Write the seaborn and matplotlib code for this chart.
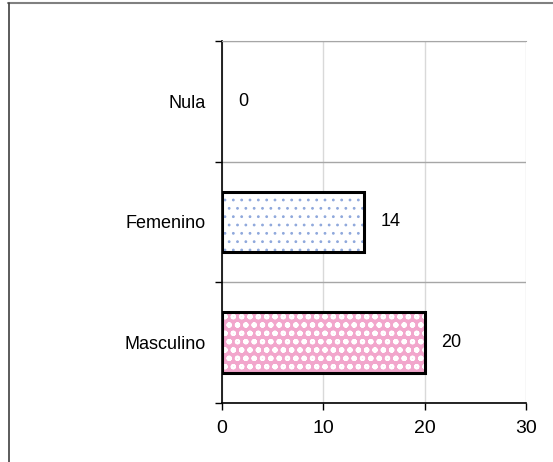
import matplotlib
matplotlib.use("Agg")
import matplotlib.pyplot as plt
import seaborn as sns
import pandas as pd
from matplotlib.lines import Line2D

# Data
categorias = ["Nula", "Femenino", "Masculino"]
valores = [0, 14, 20]
colores = ["#ffffff", "#ffffff", "#ff99cc"]
tramas = ["", "..", "oo"]
color_trama = ["#ffffff", "#8fa8dc", "#ffffff"]
grosor_trama = [1.0, 0.8, 1.5]

df = pd.DataFrame({"sexo": categorias, "n": valores})

sns.set_style("white")
plt.rcParams["font.family"] = ["Liberation Sans", "DejaVu Sans"]
plt.rcParams["text.color"] = "black"
plt.rcParams["xtick.color"] = "black"
plt.rcParams["ytick.color"] = "black"
plt.rcParams["hatch.linewidth"] = 1.0

fig = plt.figure(figsize=(5.53, 4.62), dpi=100)
ax = fig.add_axes([0.4014, 0.1277, 0.55, 0.7836])

# filled bars with pattern
sns.barplot(data=df, y="sexo", x="n", order=categorias, hue="sexo",
            palette=colores, legend=False, width=0.5, linewidth=0, ax=ax)
for p, h, c, w in zip(ax.patches, tramas, color_trama, grosor_trama):
    p.set_hatch(h)
    p.set_edgecolor(c)
    p.set_linewidth(0)
    if hasattr(p, "set_hatch_linewidth"):
        p.set_hatch_linewidth(w)

# outlines
sns.barplot(data=df, y="sexo", x="n", order=categorias, fill=False,
            color="black", width=0.5, linewidth=2.2, ax=ax)
for p, v in zip(ax.patches[len(categorias):], valores):
    p.set_edgecolor("black")
    if v == 0:
        p.set_linewidth(0)

for i, v in enumerate(valores):
    ax.annotate(str(v), xy=(v, i), xytext=(12, 0), textcoords="offset points",
                va="center", ha="left", fontsize=13)

ax.set_xlim(0, 30)
ax.set_ylim(2.5, -0.5)
ax.set_xticks([0, 10, 20, 30])
ax.set_yticks([-0.5, 0.5, 1.5, 2.5], minor=True)
ax.tick_params(axis="y", which="major", length=0, pad=12, labelsize=13)
ax.tick_params(axis="y", which="minor", length=5, width=1, color="black", left=True)
ax.tick_params(axis="x", length=5, width=1, color="black", bottom=True, labelsize=14, pad=7)
ax.set_xlabel("")
ax.set_ylabel("")

ax.grid(axis="x", which="major", color="#d9d9d9", linewidth=1)
ax.grid(axis="y", which="minor", color="#a6a6a6", linewidth=1)
ax.set_axisbelow(True)

for s in ["left", "bottom"]:
    ax.spines[s].set_color("black")
    ax.spines[s].set_linewidth(1.2)
ax.spines["top"].set_color("#a6a6a6")
ax.spines["right"].set_visible(False)

# figure frame (top and left)
fig.add_artist(Line2D([8 / 553, 1], [1 - 3 / 462, 1 - 3 / 462], color="#808080", lw=1.5,
                      transform=fig.transFigure))
fig.add_artist(Line2D([9 / 553, 9 / 553], [0, 1 - 3 / 462], color="#404040", lw=1.2,
                      transform=fig.transFigure))

fig.savefig("out.png", dpi=100)
